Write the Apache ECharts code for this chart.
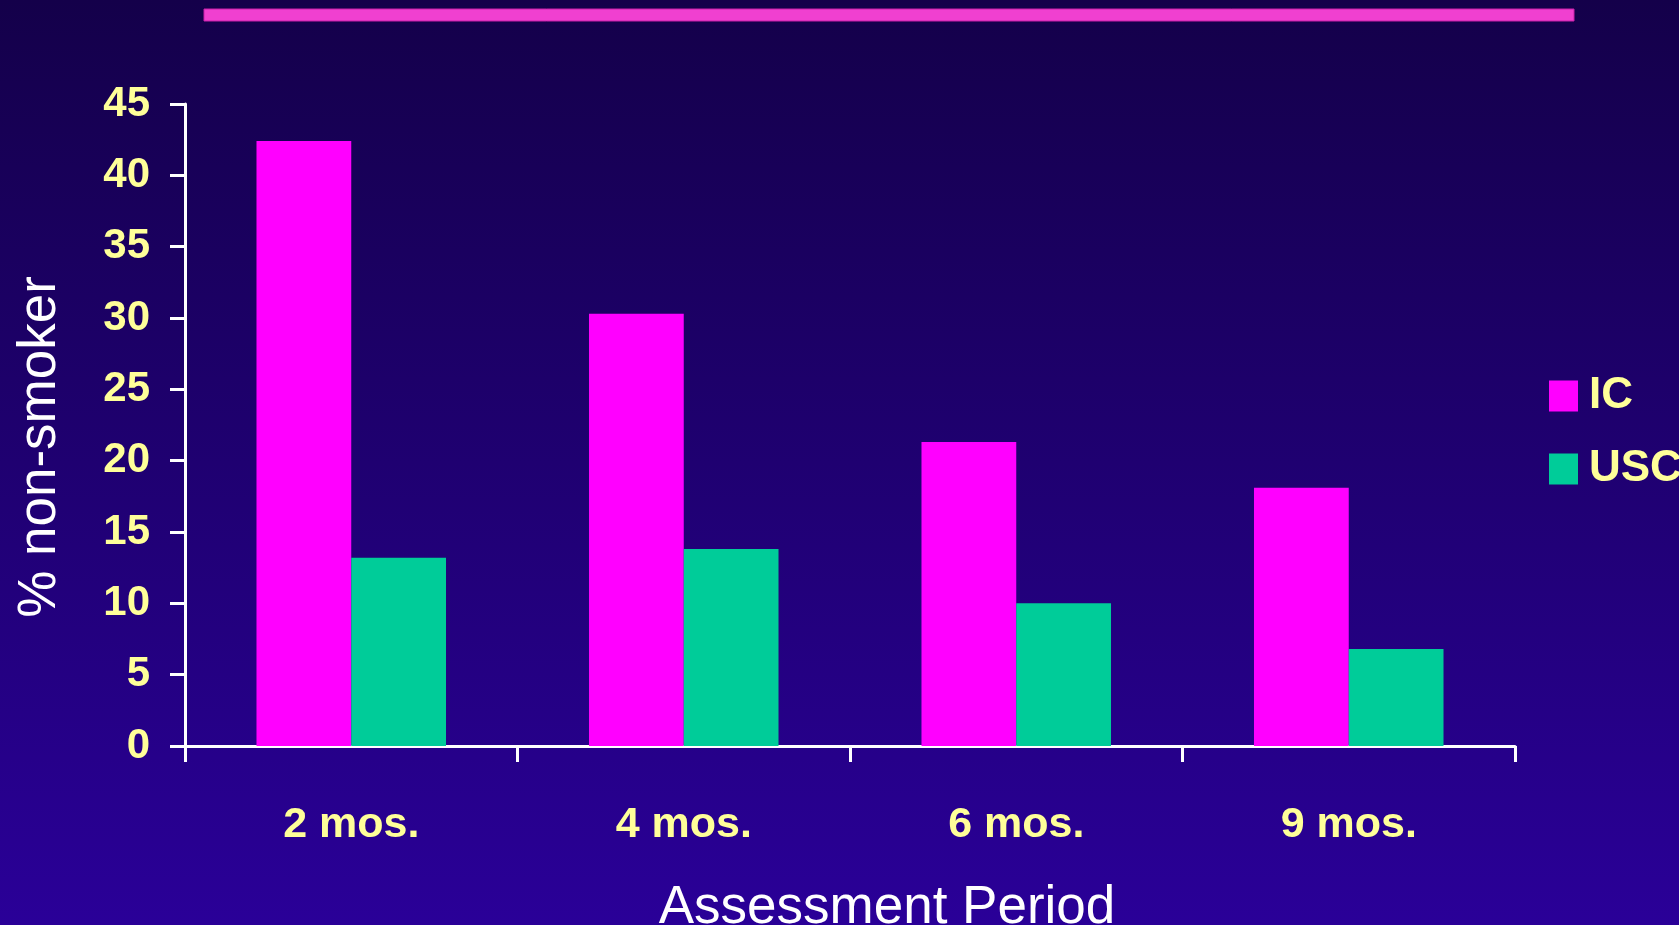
<!DOCTYPE html>
<html>
<head>
<meta charset="utf-8">
<script src="https://cdn.jsdelivr.net/npm/echarts@6/dist/echarts.min.js"></script>
<style>
  html, body { margin: 0; padding: 0; }
  #chart { width: 1679px; height: 925px; }
</style>
</head>
<body>
<div id="chart"></div>
<script>
// values
var categories = ['2 mos.', '4 mos.', '6 mos.', '9 mos.'];
var icValues = [42.4, 30.3, 21.3, 18.1];
var uscValues = [13.2, 13.8, 10.0, 6.8];
var seriesNames = ['IC', 'USC'];
var yMin = 0, yMax = 45, yStep = 5;

var yellow = '#FFFF99';
var font = '"Liberation Sans", Arial, sans-serif';

var myChart = echarts.init(document.getElementById('chart'));

var option = {
    backgroundColor: {
        type: 'linear', x: 0, y: 0, x2: 0, y2: 1,
        colorStops: [
            {offset: 0, color: '#14004A'},
            {offset: 1, color: '#2A0098'}
        ]
    },
    animation: false,
    textStyle: {fontFamily: font},
    graphic: [
        {
            type: 'rect',
            shape: {x: 204, y: 9, width: 1370, height: 12},
            style: {fill: '#F040D0', stroke: '#C81FA8', lineWidth: 1}
        },
        {
            type: 'text',
            x: 887, y: 908,
            style: {
                text: 'Assessment Period',
                fill: '#FFFFFF',
                font: '53px ' + font,
                textAlign: 'center',
                textVerticalAlign: 'middle'
            }
        },
        {
            type: 'text',
            x: 40, y: 447,
            rotation: Math.PI / 2,
            style: {
                text: '% non-smoker',
                fill: '#FFFFFF',
                font: '53px ' + font,
                textAlign: 'center',
                textVerticalAlign: 'middle'
            }
        }
    ],
    legend: {
        data: seriesNames,
        orient: 'vertical',
        left: 1544,
        top: 369,
        icon: 'rect',
        itemWidth: 29,
        itemHeight: 31,
        itemGap: 29,
        textStyle: {
            color: yellow,
            fontWeight: 'bold',
            fontSize: 44,
            lineHeight: 42,
            fontFamily: font,
            padding: [0, 0, 0, 6]
        }
    },
    grid: {left: 185, right: 164, top: 104, bottom: 179, containLabel: false},
    xAxis: {
        type: 'category',
        data: categories,
        axisLine: {lineStyle: {color: '#FFFFFF', width: 3}},
        axisTick: {show: true, length: 16, lineStyle: {color: '#FFFFFF', width: 3}},
        axisLabel: {
            color: yellow, fontWeight: 'bold', fontSize: 43, lineHeight: 42,
            fontFamily: font, margin: 58
        },
        splitLine: {show: false}
    },
    yAxis: {
        type: 'value',
        min: yMin, max: yMax, interval: yStep,
        axisLine: {show: true, lineStyle: {color: '#FFFFFF', width: 3}},
        axisTick: {show: true, length: 15, lineStyle: {color: '#FFFFFF', width: 3}},
        axisLabel: {
            color: yellow, fontWeight: 'bold', fontSize: 42,
            fontFamily: font, margin: 35
        },
        splitLine: {show: false}
    },
    series: [
        {
            name: seriesNames[0],
            type: 'bar',
            data: icValues,
            itemStyle: {color: '#FF00FF'},
            barGap: '0%',
            barCategoryGap: '43%'
        },
        {
            name: seriesNames[1],
            type: 'bar',
            data: uscValues,
            itemStyle: {color: '#00CC99'},
            barGap: '0%',
            barCategoryGap: '43%'
        }
    ]
};

myChart.setOption(option);
</script>
</body>
</html>
